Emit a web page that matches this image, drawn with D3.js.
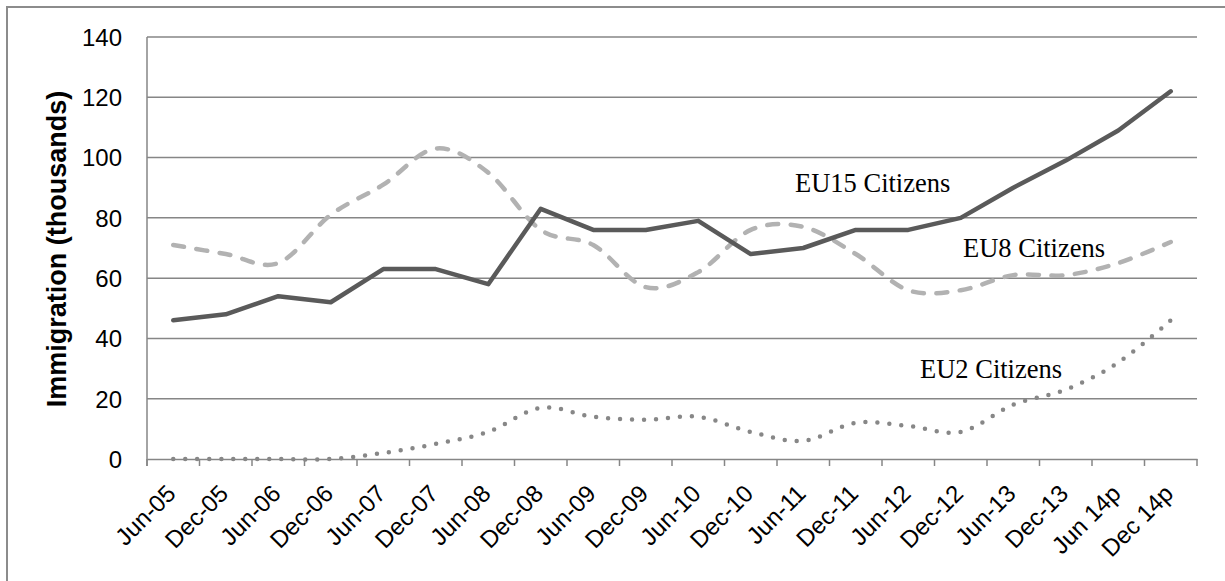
<!DOCTYPE html>
<html>
<head>
<meta charset="utf-8">
<style>
  body { margin: 0; background: #fff; }
  .axis-label { font-family: Arial, "Liberation Sans", sans-serif; font-size: 24px; fill: #000; }
  .series-label { font-family: "Times New Roman", "Liberation Serif", serif; font-size: 26.5px; fill: #000; }
</style>
</head>
<body>
<svg width="1225" height="581"></svg>
<script src="https://cdn.jsdelivr.net/npm/d3@7/dist/d3.min.js"></script>
<script>
// data (thousands)
var periods = ["Jun-05", "Dec-05", "Jun-06", "Dec-06", "Jun-07", "Dec-07", "Jun-08", "Dec-08",
               "Jun-09", "Dec-09", "Jun-10", "Dec-10", "Jun-11", "Dec-11", "Jun-12", "Dec-12",
               "Jun-13", "Dec-13", "Jun 14p", "Dec 14p"];
var eu15 = [46, 48, 54, 52, 63, 63, 58, 83, 76, 76, 79, 68, 70, 76, 76, 80, 90, 99, 109, 122];
var eu8  = [71, 68, 65, 81, 91, 103, 95, 76, 71, 57, 62, 76, 77, 68, 56, 56, 61, 61, 65, 72];
var eu2  = [0, 0, 0, 0, 2, 5, 9, 17, 14, 13, 14, 9, 6, 12, 11, 9, 18, 23, 32, 46];
var yTicks = [0, 20, 40, 60, 80, 100, 120, 140];

var svg = d3.select("svg"),
    margin = {top: 37, right: 28, bottom: 122, left: 147},
    width = +svg.attr("width") - margin.left - margin.right,
    height = +svg.attr("height") - margin.top - margin.bottom;

// outer frame of the chart, right and bottom edge fall outside the picture
svg.append("rect")
    .attr("x", 7)
    .attr("y", 7)
    .attr("width", 1240)
    .attr("height", 600)
    .attr("fill", "none")
    .attr("stroke", "#8c8c8c")
    .attr("stroke-width", 2);

var g = svg.append("g").attr("transform", "translate(" + margin.left + "," + margin.top + ")");

var x = d3.scaleBand().domain(periods).range([0, width]),
    y = d3.scaleLinear().domain([0, 140]).range([height, 0]);

// horizontal gridlines
g.append("g")
    .selectAll("line")
    .data(yTicks.filter(function(d) { return d > 0; }))
    .enter().append("line")
    .attr("x1", 0)
    .attr("x2", width)
    .attr("y1", function(d) { return y(d); })
    .attr("y2", function(d) { return y(d); })
    .attr("stroke", "#868686")
    .attr("stroke-width", 1.5);

// y axis
var yAxis = g.append("g")
    .call(d3.axisLeft(y).tickValues(yTicks).tickSize(0).tickPadding(25));
yAxis.select(".domain")
    .attr("d", "M0," + (height + 7) + "V0")
    .attr("stroke", "#868686")
    .attr("stroke-width", 1.5);
yAxis.selectAll("text")
    .attr("class", "axis-label")
    .attr("dy", "0.35em");

// x axis, ticks sit between the categories
var xAxis = g.append("g")
    .attr("transform", "translate(0," + height + ")")
    .call(d3.axisBottom(x).tickSize(0));
xAxis.select(".domain")
    .attr("stroke", "#868686")
    .attr("stroke-width", 1.5);
xAxis.selectAll(".tick line").remove();
xAxis.selectAll(".tick text")
    .attr("class", "axis-label")
    .attr("text-anchor", "end")
    .attr("y", 0)
    .attr("dy", 0)
    .attr("transform", "translate(4,36) rotate(-45)");

xAxis.selectAll(".sep")
    .data(d3.range(periods.length + 1))
    .enter().append("line")
    .attr("class", "sep")
    .attr("x1", function(i) { return i * x.step(); })
    .attr("x2", function(i) { return i * x.step(); })
    .attr("y1", 0)
    .attr("y2", 7)
    .attr("stroke", "#868686")
    .attr("stroke-width", 1.5);

// y axis title
svg.append("text")
    .attr("transform", "translate(65.5," + 249 + ") rotate(-90)")
    .attr("text-anchor", "middle")
    .style("font-family", "Arial, 'Liberation Sans', sans-serif")
    .style("font-weight", "bold")
    .style("font-size", "27px")
    .text("Immigration (thousands)");

function cx(d, i) { return x(periods[i]) + x.bandwidth() / 2; }

var straight = d3.line().x(cx).y(function(d) { return y(d); });
var smooth = d3.line().curve(d3.curveCardinal).x(cx).y(function(d) { return y(d); });

// EU2 - dotted
g.append("path")
    .attr("d", smooth(eu2))
    .attr("fill", "none")
    .attr("stroke", "#878787")
    .attr("stroke-width", 4.5)
    .attr("stroke-linecap", "round")
    .attr("stroke-dasharray", "0,12");

// EU8 - dashed light grey
g.append("path")
    .attr("d", smooth(eu8))
    .attr("fill", "none")
    .attr("stroke", "#b2b2b2")
    .attr("stroke-width", 4.5)
    .attr("stroke-linecap", "round")
    .attr("stroke-dasharray", "11,12.5");

// EU15 - solid dark grey
g.append("path")
    .attr("d", straight(eu15))
    .attr("fill", "none")
    .attr("stroke", "#5a5a5a")
    .attr("stroke-width", 4.5)
    .attr("stroke-linejoin", "round")
    .attr("stroke-linecap", "round");

// series names inside the plot
var labels = [
    {text: "EU15 Citizens", x: 795, y: 192},
    {text: "EU8 Citizens", x: 963, y: 257},
    {text: "EU2 Citizens", x: 920, y: 378}
];
svg.selectAll(".series-label")
    .data(labels)
    .enter().append("text")
    .attr("class", "series-label")
    .attr("x", function(d) { return d.x; })
    .attr("y", function(d) { return d.y; })
    .text(function(d) { return d.text; });
</script>
</body>
</html>
